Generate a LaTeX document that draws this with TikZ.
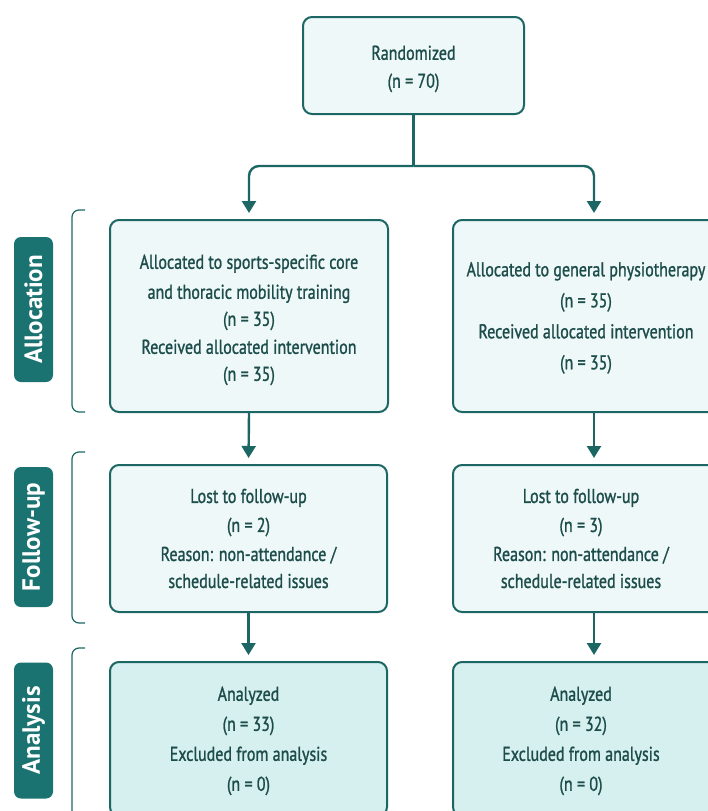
\documentclass[tikz,border=0pt]{standalone}
\usepackage{fontspec}
\setmainfont{PT Sans}[FakeStretch=0.8, FakeBold=1.1]
\newfontfamily\tagfont{PT Sans}
\usetikzlibrary{positioning, arrows.meta}
\definecolor{tealline}{HTML}{1C6764}
\definecolor{tealtext}{HTML}{1D4D4B}
\definecolor{boxfill}{HTML}{EEF8F8}
\definecolor{anafill}{HTML}{D6EFEF}
\definecolor{tagfill}{HTML}{1A7371}

\tikzset{
  flowbox/.style={draw=tealline, line width=2pt, rounded corners=9pt, fill=boxfill,
    align=center, text=tealtext, inner sep=0pt,
    font=\fontsize{20}{29}\selectfont},
  anabox/.style={flowbox, fill=anafill},
  phasetag/.style={fill=tagfill, rounded corners=7pt, rotate=90, text=white,
    minimum height=39pt, inner sep=0pt, font=\tagfont\fontsize{25}{27}\selectfont\bfseries},
  flowline/.style={draw=tealline, line width=2.4pt},
  flowarrow/.style={flowline, -{Triangle[width=14pt,length=12pt]}, shorten >=6pt},
  bracket/.style={draw=tealline, line width=1.2pt, rounded corners=7pt}
}

\begin{document}
\begin{tikzpicture}[x=1pt, y=-1pt]
\useasboundingbox[fill=white] (0,0) rectangle (708,811);
\clip (0,0) rectangle (708,811);

% top box
\node[flowbox, minimum width=221pt, minimum height=97pt] (rand) at (413.5,65.5) {\rule{0pt}{21pt}Randomized\\[-1pt](n = 70)};

% allocation row
\node[flowbox, minimum width=278pt, minimum height=192pt] (allocL) at (249,316)
  {\rule{0pt}{22pt}Allocated to sports-specific core\\[1pt] and thoracic mobility training\\[-2pt] (n = 35)\\[-1pt] Received allocated intervention\\[-2pt] (n = 35)};
\node[flowbox, minimum width=282pt, minimum height=192pt] (allocR) at (594,316)
  {\rule{0pt}{18pt}\hspace*{-16pt}Allocated to general physiotherapy\\[2pt] \hspace*{-16pt}(n = 35)\\[2pt] \hspace*{-16pt}Received allocated intervention\\[2pt] \hspace*{-16pt}(n = 35)};

% follow-up row
\node[flowbox, minimum width=277pt, minimum height=147pt] (lostL) at (248.5,538.5)
  {Lost to follow-up\\ (n = 2)\\ Reason: non-attendance /\\[-2pt] schedule-related issues};
\node[flowbox, minimum width=282pt, minimum height=147pt] (lostR) at (594,538.5)
  {\hspace*{-26pt}Lost to follow-up\\ \hspace*{-26pt}(n = 3)\\ \hspace*{-26pt}Reason: non-attendance /\\[-2pt] \hspace*{-26pt}schedule-related issues};

% analysis row
\node[anabox, minimum width=277pt, minimum height=154pt] (anaL) at (248.5,739)
  {\rule{0pt}{18pt}Analyzed\\[1pt] (n = 33)\\[1pt] Excluded from analysis\\[1pt] (n = 0)};
\node[anabox, minimum width=282pt, minimum height=154pt] (anaR) at (594,739)
  {\rule{0pt}{18pt}\hspace*{-26pt}Analyzed\\[1pt] \hspace*{-26pt}(n = 32)\\[1pt] \hspace*{-26pt}Excluded from analysis\\[1pt] \hspace*{-26pt}(n = 0)};

% phase labels
\node[phasetag, minimum width=145pt] (tagAlloc) at (33.5,309.5) {Allocation};
\node[phasetag, minimum width=140pt] (tagFollow) at (33.5,537) {Follow-up};
\node[phasetag, minimum width=136pt] (tagAna) at (33.5,730.5) {Analysis};

% brackets
\draw[bracket] (85,210) -- (72,210) -- (72,412) -- (85,412);
\draw[bracket] (85,452) -- (72,452) -- (72,623) -- (85,623);
\draw[bracket] (85,648) -- (72,648) -- (72,830);

% connectors
\draw[flowline] (rand.south) -- ++(0,51) coordinate (split);
\draw[flowarrow, rounded corners=10pt] (split) -| (allocL.north);
\draw[flowarrow, rounded corners=10pt] (split) -| (allocR.north);
\draw[flowarrow] (allocL.south) -- (lostL.north);
\draw[flowarrow] (allocR.south -| lostR.north) -- (lostR.north);
\draw[flowarrow] (lostL.south) -- (anaL.north);
\draw[flowarrow] (lostR.south) -- (anaR.north);
\end{tikzpicture}
\end{document}
